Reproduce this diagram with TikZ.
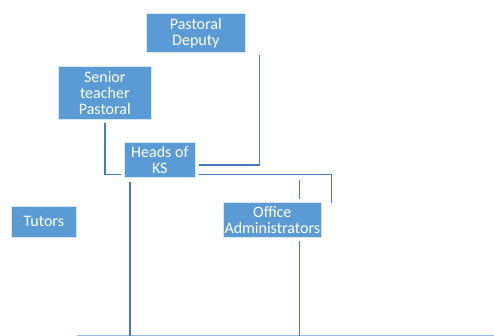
\documentclass[tikz,border=0pt]{standalone}
\usepackage{fontspec}
\setmainfont{Carlito}
\usetikzlibrary{calc}
\definecolor{boxblue}{RGB}{91,155,213}
\definecolor{lineblue}{RGB}{70,122,184}
\definecolor{floorblue}{RGB}{150,186,222}
\tikzset{
	role/.style={fill=boxblue, draw=white!75!boxblue, line width=0.6pt, text=white, align=center, inner sep=0pt, anchor=north west, font=\fontsize{16}{16}\selectfont},
	link/.style={draw=lineblue, line width=1.7pt}
}

\begin{document}
\begin{tikzpicture}[x=1pt, y=-1pt]
			%%%%% START %%%%%
			\useasboundingbox (0, 0) rectangle (494, 336);
			
			\node[role, minimum width=99pt, minimum height=39pt] (deputy) at (146, 13) {Pastoral\\Deputy};
			\node[role, minimum width=93pt, minimum height=53pt] (senior) at (58, 66) {Senior\\teacher\\Pastoral};
			\node[role, minimum width=71pt, minimum height=35pt] (heads) at (124, 142) {Heads of\\KS};
			\node[role, minimum width=65pt, minimum height=31pt] (tutors) at (11, 206) {Tutors};
			\node[role, minimum width=98pt, minimum height=35pt] (office) at (223, 202) {Office\\Administrators};
			
			\coordinate (floorl) at (77, 335.5);
			\coordinate (floorr) at (494, 335.5);
			\draw[draw=floorblue, line width=0.9pt] (floorl) -- (floorr);
			
			\draw[link] ($(deputy.south east)+(14, 2)$) |- ($(heads.north east)+(3, 23)$);
			\draw[link] ($(senior.south)+(0.5, 3)$) |- ($(heads.south west)+(-3, -3)$);
			\draw[link] ($(heads.south east)+(3, -3)$) -| ($(office.north east)+(10, 1)$);
			\draw[link] ($(office.north east)+(-22, -22)$) -- ($(office.north east)+(-22, -3)$);
			
			\path ($(heads.south west)+(6, 4)$) coordinate (headsdown);
			\path ($(office.south east)+(-22, 3)$) coordinate (officedown);
			\draw[link] (headsdown) -- (headsdown |- floorl);
			\draw[link] (officedown) -- (officedown |- floorl);
			%%%%% END %%%%%
\end{tikzpicture}
\end{document}
